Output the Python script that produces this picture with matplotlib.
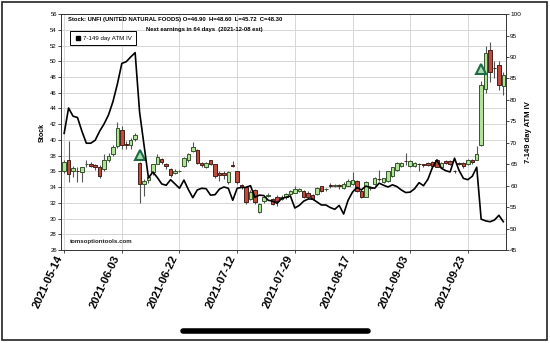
import matplotlib as mpl
mpl.use('Agg')
import matplotlib.pyplot as plt
from matplotlib.lines import Line2D
from matplotlib.patches import Rectangle
import numpy as np

plt.rcParams['font.family'] = ['Liberation Sans', 'DejaVu Sans']

# daily candles, one per trading day starting 2021-05-14
opens = [36.1, 37.4, 36.0, 36.1, 35.9, 36.9, 36.9, 36.8, 36.6, 36.3,
         37.4, 38.2, 39.2, 41.2, 39.5, 39.4, 40.1, 37.1, 34.4, 34.9,
         35.9, 37.0, 37.6, 36.9, 36.3, 35.8, 36.0, 36.7, 37.4, 38.6,
         38.7, 37.1, 36.6, 37.4, 36.9, 35.8, 35.8, 34.6, 36.75, 36.0,
         34.3, 34.0, 32.5, 33.6, 30.9, 32.2, 32.9, 32.5, 32.8, 32.5,
         32.7, 33.1, 33.3, 33.5, 33.5, 33.3, 33.0, 33.1, 34.1, 33.7,
         34.25, 34.2, 34.25, 33.9, 34.2, 34.4, 34.8, 33.5, 32.8, 33.95,
         34.4, 35.05, 34.6, 34.8, 35.4, 36.2, 36.7, 37.35, 36.7, 36.7,
         36.95, 36.85, 37.1, 37.2, 37.5, 36.5, 37.3, 37.3, 36.05, 37.05,
         37.1, 36.9, 37.5, 37.5, 39.4, 46.5, 51.4, 49.15, 49.5, 46.9]
highs = [37.4, 39.9, 36.7, 36.5, 36.6, 37.5, 37.2, 37.0, 36.8, 38.2,
         38.3, 39.4, 42.3, 41.8, 39.8, 40.2, 40.9, 37.2, 35.0, 35.4,
         37.0, 38.2, 37.7, 37.1, 36.4, 36.3, 36.2, 37.8, 38.3, 39.7,
         38.8, 37.2, 37.2, 37.5, 37.0, 36.0, 36.0, 36.0, 37.3, 36.1,
         34.4, 34.1, 33.6, 33.8, 32.0, 32.8, 33.3, 32.6, 33.0, 33.0,
         33.3, 33.6, 34.2, 33.9, 33.6, 33.5, 33.1, 34.0, 34.2, 33.9,
         34.5, 34.4, 34.4, 34.6, 35.0, 35.9, 34.9, 33.6, 34.8, 34.2,
         35.3, 36.2, 35.2, 36.1, 36.6, 37.2, 37.2, 38.3, 37.4, 37.2,
         37.1, 37.0, 37.2, 37.3, 37.6, 37.2, 37.4, 37.4, 36.2, 37.2,
         37.2, 37.6, 37.6, 39.2, 47.5, 51.9, 52.4, 50.0, 50.0, 48.6]
lows = [35.8, 34.6, 35.3, 34.6, 34.6, 36.5, 36.5, 36.2, 35.2, 36.0,
        37.2, 38.0, 39.0, 38.9, 38.8, 38.9, 39.9, 32.0, 32.9, 34.5,
        35.5, 36.9, 36.9, 36.3, 35.3, 35.7, 35.9, 36.6, 37.2, 38.5,
        36.9, 36.6, 36.4, 36.8, 35.2, 34.8, 35.0, 34.4, 36.5, 34.4,
        33.8, 31.8, 32.3, 31.9, 30.7, 32.0, 32.7, 31.7, 31.6, 32.3,
        32.5, 33.0, 33.2, 33.4, 32.6, 32.5, 32.3, 33.0, 33.4, 33.5,
        33.9, 34.0, 33.8, 33.8, 34.1, 34.3, 33.4, 32.6, 32.7, 33.6,
        34.3, 34.8, 34.5, 34.7, 35.3, 36.1, 36.5, 36.8, 36.6, 36.5,
        36.0, 36.5, 36.7, 36.4, 36.5, 36.4, 36.9, 36.8, 35.8, 36.8,
        36.4, 36.8, 37.0, 37.4, 39.2, 46.0, 47.4, 47.9, 46.4, 45.72]
closes = [37.2, 35.7, 36.4, 36.0, 36.5, 37.0, 36.7, 36.6, 35.4, 37.4,
          38.0, 39.1, 41.5, 39.4, 39.3, 40.0, 40.6, 34.4, 34.8, 35.3,
          36.9, 37.8, 37.2, 36.7, 35.5, 36.1, 36.1, 37.7, 38.2, 39.1,
          37.1, 36.8, 37.1, 37.0, 35.4, 35.5, 35.5, 35.9, 36.7, 34.6,
          34.0, 32.1, 33.4, 32.1, 31.9, 32.7, 32.9, 31.9, 32.2, 32.8,
          33.1, 33.5, 33.8, 33.7, 32.8, 32.7, 32.5, 33.9, 33.5, 33.7,
          34.2, 34.2, 34.2, 34.4, 34.8, 34.9, 33.5, 32.8, 34.7, 33.9,
          35.2, 35.0, 35.1, 36.0, 36.5, 37.1, 37.1, 37.3, 37.3, 37.1,
          36.9, 36.8, 36.8, 36.7, 36.6, 37.1, 37.1, 37.0, 36.0, 37.0,
          36.7, 37.5, 37.2, 38.2, 47.0, 51.0, 48.6, 49.1, 47.0, 48.3]

# 7-149 day ATM implied volatility, same days
atm_iv = [72.2, 78.1, 76.2, 75.9, 72.7, 69.9, 69.9, 70.6, 72.7, 74.4,
          76.5, 79.6, 83.7, 88.5, 88.9, 90.0, 91.0, 77.2, 69.5, 61.8,
          63.2, 61.9, 60.4, 60.1, 61.4, 60.4, 59.4, 61.3, 59.1, 57.2,
          59.0, 59.4, 59.3, 57.8, 57.9, 59.2, 59.7, 59.4, 56.6, 59.4,
          59.6, 59.6, 60.0, 57.3, 57.8, 57.7, 56.6, 56.4, 55.9, 57.0,
          57.3, 57.6, 54.8, 55.4, 56.4, 56.9, 56.9, 56.2, 55.5, 55.5,
          54.9, 54.5, 55.4, 53.4, 56.6, 58.5, 59.6, 59.0, 59.9, 59.6,
          59.4, 60.6, 60.1, 59.7, 60.2, 59.8, 59.0, 58.4, 58.5, 59.3,
          60.7, 60.0, 61.5, 64.2, 66.0, 64.1, 63.5, 63.2, 66.4, 63.6,
          61.7, 61.4, 62.2, 64.3, 52.2, 51.8, 51.6, 52.0, 53.1, 51.6]

tick_labels = ['2021-05-14', '2021-06-03', '2021-06-22', '2021-07-12',
               '2021-07-29', '2021-08-17', '2021-09-03', '2021-09-23']
tick_step = 13

# earnings markers
earn_idx = [17, 94]
earn_mark = [38.1, 49.0]

GREEN = '#b0e398'
RED = '#c04a3c'

fig = plt.figure(figsize=(5.5, 3.43), dpi=100)
ax = fig.add_axes([0.111, 0.271, 0.809, 0.688])
ax2 = ax.twinx()

x = np.arange(len(opens))
o = np.array(opens)
c = np.array(closes)
up = c >= o
body_lo = np.minimum(o, c)
body_h = np.maximum(np.abs(c - o), 0.08)

ax.vlines(x, lows, highs, color='#555555', lw=0.8, zorder=2)
ax.bar(x[up], body_h[up], bottom=body_lo[up], width=0.78,
       color=GREEN, edgecolor='#35552e', lw=0.7, zorder=3)
ax.bar(x[~up], body_h[~up], bottom=body_lo[~up], width=0.78,
       color=RED, edgecolor='#45201a', lw=0.7, zorder=3)
ax.plot(earn_idx, earn_mark, ls='none', marker='^', ms=7,
        mfc='#a8dcb0', mec='#1e6a48', mew=1.5, zorder=4)

ax2.plot(x, atm_iv, color='black', lw=1.2, zorder=5)

ax.set_xlim(-0.7, 99.6)
ax.set_ylim(26, 56)
ax.set_yticks(np.arange(26, 57, 2))
ax2.set_ylim(45, 100)
ax2.set_yticks(np.arange(45, 101, 5))

ax.set_xticks(np.arange(len(tick_labels)) * tick_step)
ax.set_xticklabels(tick_labels, rotation=65, ha='right',
                   fontsize=8, fontweight='bold')
ax.grid(True, color='#d6d6d6', lw=0.7)
ax.set_axisbelow(True)
ax.tick_params(axis='y', labelsize=4.3, length=2, width=0.5, pad=1)
ax.tick_params(axis='x', length=2, width=0.5, pad=1)
ax2.tick_params(axis='y', labelsize=4.6, length=2, width=0.5, pad=1)
for a in (ax, ax2):
    for s in a.spines.values():
        s.set_linewidth(0.6)
        s.set_color('#333333')

ax.set_ylabel('Stock', fontsize=5, fontweight='bold', labelpad=3)
ax2.set_ylabel('7-149 day ATM IV', fontsize=5.5, fontweight='bold', labelpad=3)

ax.text(0.016, 0.978,
        'Stock: UNFI (UNITED NATURAL FOODS) O=46.90  H=48.60  L=45.72  C=48.30',
        transform=ax.transAxes, fontsize=4.2, fontweight='bold', va='center')
ax.text(0.323, 0.936, 'Next earnings in 64 days  (2021-12-08 est)',
        transform=ax.transAxes, fontsize=4.2, fontweight='bold',
        va='center', ha='center')
ax.text(0.02, 0.035, 'tomsoptiontools.com', transform=ax.transAxes,
        fontsize=4.4, fontweight='bold', color='#222222', va='center')

handle = Line2D([], [], marker='s', color='black', ls='none', markersize=3.5)
leg = ax2.legend([handle], ['7-149 day ATM IV'], loc='upper left',
                 bbox_to_anchor=(0.014, 0.94), fontsize=4.4, frameon=True,
                 fancybox=False, edgecolor='black', framealpha=1,
                 borderpad=0.7, handletextpad=0.3, handlelength=1.0)
leg.get_frame().set_linewidth(0.7)

# phone screenshot frame and home bar
fig.patches.append(Rectangle((0.004, 0.008), 0.99, 0.985,
                             transform=fig.transFigure, fill=False,
                             ec='#222222', lw=1.2))
fig.add_artist(Line2D([183 / 550, 368 / 550], [1 - 331 / 343] * 2,
                      lw=4, color='black', solid_capstyle='round'))

fig.savefig('out.png', dpi=100)
